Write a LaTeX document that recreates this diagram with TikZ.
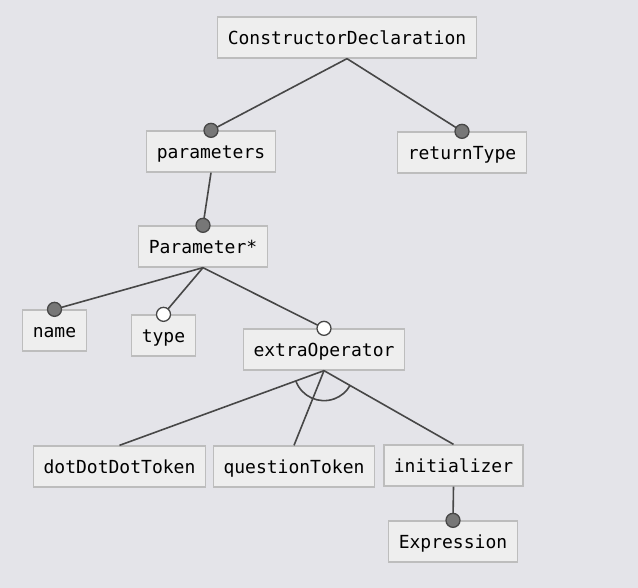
\documentclass[tikz,border=0pt]{standalone}
\usepackage{fontspec}
\setmonofont{DejaVu Sans Mono}
\usetikzlibrary{positioning,calc}
\definecolor{BgGray}{HTML}{E4E4E9}
\definecolor{BoxFill}{HTML}{EEEEEE}
\definecolor{BoxLine}{HTML}{BDBDBD}
\definecolor{EdgeGray}{HTML}{474747}
\definecolor{MandFill}{HTML}{777777}

\begin{document}
\begin{tikzpicture}[
  x=1pt, y=1pt,
  feat/.style  = {rectangle, draw=BoxLine, fill=BoxFill, line width=1.3pt,
                  minimum height=41pt, inner xsep=10pt, inner ysep=0pt,
                  text height=16pt, text depth=2.4pt,
                  font=\fontsize{18}{20}\selectfont\ttfamily},
  edge/.style  = {draw=EdgeGray, line width=1.6pt},
  mand/.style  = {circle, draw=EdgeGray, fill=MandFill, line width=1.3pt,
                  minimum size=14pt, inner sep=0pt},
  opt/.style   = {mand, fill=white}
]
\fill[BgGray] (0,0) rectangle (638,-588);
\useasboundingbox (0,0) rectangle (638,-588);

% Features
\node[feat] (cd)   at (347,-37.5)   {ConstructorDeclaration};
\node[feat] (par)  at (211,-151.5)  {parameters};
\node[feat] (ret)  at (462,-152.5)  {returnType};
\node[feat] (prm)  at (203,-246.5)  {Parameter*};
\node[feat] (name) at (54.5,-330.5) {name};
\node[feat] (type) at (163.5,-335.5){type};
\node[feat] (eo)   at (324,-349.5)  {extraOperator};
\node[feat] (ddd)  at (119.5,-466.5){dotDotDotToken};
\node[feat] (qt)   at (294,-466.5)  {questionToken};
\node[feat] (init) at (453.5,-465.5){initializer};
\node[feat] (expr) at (453,-541.5)  {Expression};

% Edges
\draw[edge] (cd.south) -- (par.north);
\draw[edge] (cd.south) -- (ret.north);
\draw[edge] (par.south) -- (prm.north);
\draw[edge] (prm.south) -- (name.north);
\draw[edge] (prm.south) -- (type.north);
\draw[edge] (prm.south) -- (eo.north);
\draw[edge] (eo.south) -- (ddd.north);
\draw[edge] (eo.south) -- (qt.north);
\draw[edge] (eo.south) -- (init.north);
\draw[edge] (init.south) -- (expr.north);

% Group arc
\draw[edge] ([shift={(200.3:30)}]eo.south) arc[start angle=200.3, end angle=329.8, radius=30pt];

% Mandatory / optional markers
\node[mand] (parM)  at (par.north)  {};
\node[mand] (retM)  at (ret.north)  {};
\node[mand] (prmM)  at (prm.north)  {};
\node[mand] (nameM) at (name.north) {};
\node[opt]  (typeO) at (type.north) {};
\node[opt]  (eoO)   at (eo.north)   {};
\node[mand] (exprM) at (expr.north) {};
\end{tikzpicture}
\end{document}
